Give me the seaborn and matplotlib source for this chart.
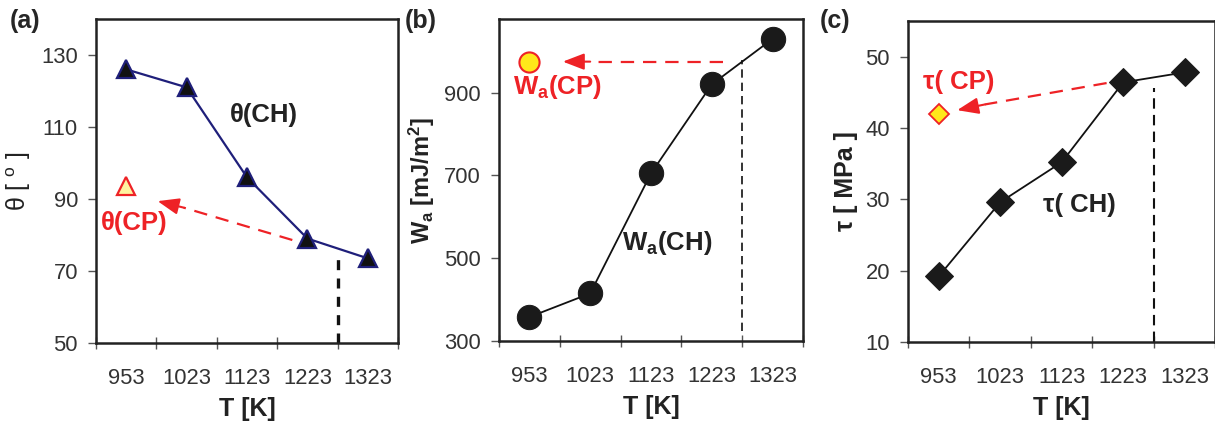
import numpy as np
import pandas as pd
import matplotlib
matplotlib.use('Agg')
import matplotlib.pyplot as plt
import seaborn as sns

sns.set_style('ticks')
plt.rcParams['font.family'] = ['Liberation Sans', 'DejaVu Sans']
plt.rcParams['mathtext.fontset'] = 'custom'
plt.rcParams['mathtext.rm'] = 'Liberation Sans'
plt.rcParams['mathtext.bf'] = 'Liberation Sans:bold'
plt.rcParams['mathtext.it'] = 'Liberation Sans:italic'

# data
temps = ['953', '1023', '1123', '1223', '1323']
theta_ch = [126, 121, 96, 79, 73.5]
theta_cp = 93.5
wa_ch = [358, 415, 705, 920, 1030]
wa_cp = 975
tau_ch = [19.2, 29.6, 35.2, 46.4, 47.8]
tau_cp = 42

RED = '#ee2226'
NAVY = '#1f1f7a'
TXT = '#333333'

fig = plt.figure(figsize=(12.15, 4.25), dpi=100)
ax_a = fig.add_axes([0.079, 0.193, 0.2486, 0.7624])
ax_b = fig.add_axes([0.4107, 0.1976, 0.2502, 0.7577])
ax_c = fig.add_axes([0.7473, 0.1953, 0.2531, 0.7553])

pos = np.arange(len(temps))


def style_axis(ax, ylim, yticks):
    ax.set_xlim(-0.5, len(temps) - 0.5)
    ax.set_ylim(*ylim)
    ax.set_yticks(yticks)
    ax.set_xticks(np.arange(len(temps) + 1) - 0.5)
    ax.set_xticklabels([])
    ax.set_xticks(pos, minor=True)
    ax.set_xticklabels(temps, minor=True)
    ax.tick_params(axis='x', which='major', direction='inout', length=9, width=1, color='#555555')
    ax.tick_params(axis='x', which='minor', length=0, pad=18, labelsize=15.8, labelcolor=TXT)
    ax.tick_params(axis='y', direction='out', length=6, width=1, color='#555555',
                   labelsize=15.8, labelcolor=TXT, pad=7)
    for s in ax.spines.values():
        s.set_linewidth(1.8)
        s.set_color('#222222')
    ax.set_xlabel('T [K]', fontsize=18, fontweight='bold', color='#222222', labelpad=6)


def dashed_arrow(ax, start, tip, back):
    ax.plot([start[0], back[0]], [start[1], back[1]], '--', color=RED, lw=1.6, dashes=(6, 4))
    ax.annotate('', xy=tip, xytext=back,
                arrowprops=dict(arrowstyle='-|>,head_length=1.3,head_width=0.5',
                                color=RED, lw=1.5, shrinkA=0, shrinkB=0))


# (a) contact angle
df_a = pd.DataFrame({'pos': pos, 'val': theta_ch})
sns.lineplot(data=df_a, x='pos', y='val', ax=ax_a, color=NAVY, lw=1.6,
             marker='^', markersize=13, markerfacecolor='#111111',
             markeredgecolor=NAVY, markeredgewidth=1.6)
ax_a.plot([0], [theta_cp], marker='^', markersize=13, color='none',
          markerfacecolor='#fff3a0', markeredgecolor=RED, markeredgewidth=1.6)
ax_a.plot([3.5, 3.5], [50, 74], '--', color='#111111', lw=2.4, dashes=(3, 2.5))
dashed_arrow(ax_a, (2.75, 78.6), (0.52, 89.4), (0.95, 87.6))
ax_a.text(-0.42, 83.3, 'θ(CP)', color=RED, fontsize=18.5, fontweight='bold', va='center')
ax_a.text(1.72, 113.3, 'θ(CH)', color='#222222', fontsize=18.5, fontweight='bold', va='center')
style_axis(ax_a, (50, 140), [50, 70, 90, 110, 130])
ax_a.set_ylabel(r'θ [ $^{\rm o}$ ]', fontsize=18, color='#222222', labelpad=6)

# (b) work of adhesion
df_b = pd.DataFrame({'pos': pos, 'val': wa_ch})
sns.lineplot(data=df_b, x='pos', y='val', ax=ax_b, color='#111111', lw=1.3,
             marker='o', markersize=17.5, markerfacecolor='#1a1a1a',
             markeredgecolor='#1a1a1a')
ax_b.plot([0], [wa_cp], marker='o', markersize=14.5, color='none',
          markerfacecolor='#ffe81a', markeredgecolor=RED, markeredgewidth=1.5)
ax_b.plot([3.5, 3.5], [325, 978], '--', color='#111111', lw=1.2, dashes=(5, 3))
dashed_arrow(ax_b, (3.19, 975), (0.55, 975), (1.0, 975))
ax_b.text(-0.27, 913, r'W$_\mathbf{a}$(CP)', color=RED, fontsize=18.5, fontweight='bold', va='center')
ax_b.text(1.53, 538, r'W$_\mathbf{a}$(CH)', color='#222222', fontsize=18.5, fontweight='bold', va='center')
style_axis(ax_b, (300, 1078), [300, 500, 700, 900])
ax_b.set_ylabel(r'W$_\mathbf{a}$ [mJ/m$^\mathbf{2}$]', fontsize=17, fontweight='bold',
                color='#222222', labelpad=5)

# (c) shear strength
df_c = pd.DataFrame({'pos': pos, 'val': tau_ch})
sns.lineplot(data=df_c, x='pos', y='val', ax=ax_c, color='#111111', lw=1.3,
             marker='D', markersize=14, markerfacecolor='#1a1a1a',
             markeredgecolor='#1a1a1a')
ax_c.plot([0], [tau_cp], marker='D', markersize=10.5, color='none',
          markerfacecolor='#ffe81a', markeredgecolor=RED, markeredgewidth=1.3)
ax_c.plot([3.5, 3.5], [10, 45.6], '--', color='#111111', lw=1.5, dashes=(5, 3))
dashed_arrow(ax_c, (2.73, 46.3), (0.3, 42.5), (0.75, 43.3))
ax_c.text(-0.26, 46.5, 'τ( CP)', color=RED, fontsize=18.5, fontweight='bold', va='center')
ax_c.text(1.7, 29.2, 'τ( CH)', color='#222222', fontsize=18.5, fontweight='bold', va='center')
style_axis(ax_c, (10, 55), [10, 20, 30, 40, 50])
ax_c.set_ylabel('τ [ MPa ]', fontsize=18, fontweight='bold', color='#222222', labelpad=5)

fig.text(0.008, 0.95, '(a)', fontsize=18, fontweight='bold', va='center')
fig.text(0.333, 0.95, '(b)', fontsize=18, fontweight='bold', va='center')
fig.text(0.675, 0.95, '(c)', fontsize=18, fontweight='bold', va='center')

fig.savefig('out.png', dpi=100)
